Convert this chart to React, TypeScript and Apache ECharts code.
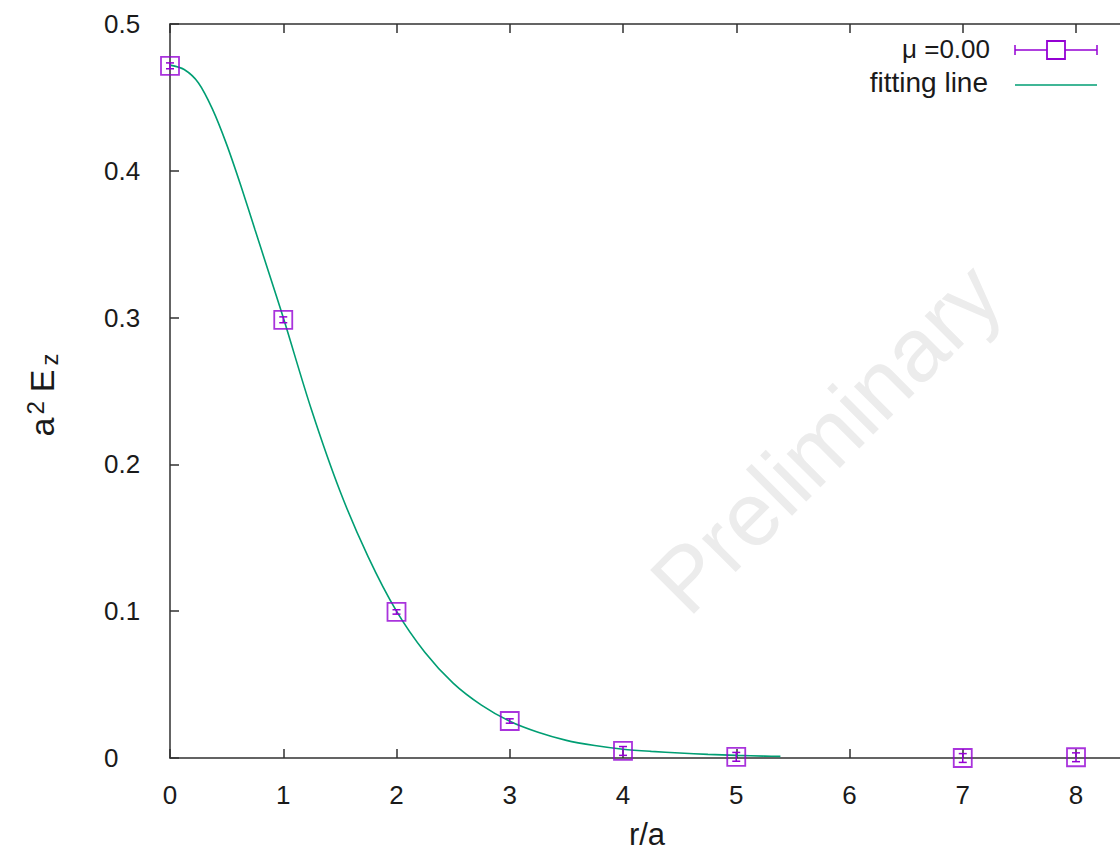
import React, { useEffect, useRef } from "react";
import * as echarts from "echarts";

// Measured data points (r/a, a^2 E_z, error)
const rValues = [0, 1, 2, 3, 4, 5, 7, 8];
const ezValues = [0.4715, 0.2985, 0.0995, 0.0252, 0.0048, 0.0008, 0.0, 0.0005];
const ezErrors = [0.002, 0.002, 0.0015, 0.0015, 0.003, 0.003, 0.003, 0.003];

// Fitting line
const fitR = [0, 0.125, 0.25, 0.375, 0.5, 0.625, 0.75, 0.875, 1.0, 1.25, 1.5, 1.75, 2.0, 2.25, 2.5, 2.75, 3.0, 3.25, 3.5, 3.75, 4.0, 4.25, 4.5, 4.75, 5.0, 5.25, 5.39];
const fitValues = [0.472, 0.469, 0.46, 0.442, 0.418, 0.39, 0.36, 0.33, 0.3, 0.237, 0.182, 0.137, 0.1, 0.072, 0.051, 0.036, 0.025, 0.0175, 0.012, 0.0085, 0.006, 0.0045, 0.0034, 0.0025, 0.0018, 0.0013, 0.0011];

const xTicks = { min: 0, max: 9, interval: 1, lastLabel: 8 };
const yTicks = { min: 0, max: 0.5, interval: 0.1 };

const legendLabels = ["\u03bc =0.00", "fitting line"];
const xAxisTitle = "r/a";

const VIOLET = "#9400d3";
const GREEN = "#009e73";
const TEXT = "#1a1a1a";
const AXIS = "#303030";
const FONT = "'Liberation Sans', Arial, sans-serif";

export default function App() {
  const ref = useRef<HTMLDivElement>(null);
  useEffect(() => {
    if (!ref.current) return;
    const chart = echarts.init(ref.current, undefined, { renderer: "svg" });
    const axisLineStyle = { color: AXIS, width: 1.5 };
    const option: any = {
      animation: false,
      backgroundColor: "#ffffff",
      textStyle: { fontFamily: FONT },
      grid: {
        left: 170,
        top: 24,
        right: 40.75,
        bottom: 96,
        containLabel: false,
        outerBoundsMode: "none",
      },
      xAxis: [
        {
          type: "value",
          min: xTicks.min,
          max: xTicks.max,
          interval: xTicks.interval,
          position: "bottom",
          axisLine: { show: true, onZero: false, lineStyle: axisLineStyle },
          axisTick: { show: true, inside: true, length: 9, lineStyle: axisLineStyle },
          axisLabel: {
            color: TEXT,
            fontSize: 26,
            margin: 24,
            fontFamily: FONT,
            formatter: (v: number) => (v > xTicks.lastLabel ? "" : String(v)),
          },
          splitLine: { show: false },
        },
        {
          type: "value",
          min: xTicks.min,
          max: xTicks.max,
          interval: xTicks.interval,
          position: "top",
          axisLine: { show: true, onZero: false, lineStyle: axisLineStyle },
          axisTick: { show: true, inside: true, length: 9, lineStyle: axisLineStyle },
          axisLabel: { show: false },
          splitLine: { show: false },
        },
      ],
      yAxis: [
        {
          type: "value",
          min: yTicks.min,
          max: yTicks.max,
          interval: yTicks.interval,
          position: "left",
          axisLine: { show: true, onZero: false, lineStyle: axisLineStyle },
          axisTick: { show: true, inside: true, length: 9, lineStyle: axisLineStyle },
          axisLabel: {
            color: TEXT,
            fontSize: 26,
            margin: 66,
            align: "left",
            fontFamily: FONT,
            formatter: (v: number) => (v === 0 ? "0" : v.toFixed(1)),
          },
          splitLine: { show: false },
        },
        {
          type: "value",
          min: yTicks.min,
          max: yTicks.max,
          interval: yTicks.interval,
          position: "right",
          axisLine: { show: true, onZero: false, lineStyle: axisLineStyle },
          axisTick: { show: true, inside: true, length: 9, lineStyle: axisLineStyle },
          axisLabel: { show: false },
          splitLine: { show: false },
        },
      ],
      series: [
        {
          type: "line",
          name: legendLabels[1],
          data: fitR.map((r, i) => [r, fitValues[i]]),
          showSymbol: false,
          symbol: "none",
          smooth: 0.3,
          lineStyle: { color: GREEN, width: 1.6 },
          z: 2,
        },
        {
          type: "custom",
          name: "errors",
          data: rValues.map((r, i) => [r, ezValues[i], ezErrors[i]]),
          renderItem: (params: any, api: any) => {
            const x = api.value(0);
            const y = api.value(1);
            const e = api.value(2);
            const lo = api.coord([x, y - e]);
            const hi = api.coord([x, y + e]);
            const cap = 4;
            const style = { stroke: VIOLET, lineWidth: 1.5 };
            return {
              type: "group",
              children: [
                { type: "line", shape: { x1: lo[0], y1: lo[1], x2: hi[0], y2: hi[1] }, style },
                { type: "line", shape: { x1: lo[0] - cap, y1: lo[1], x2: lo[0] + cap, y2: lo[1] }, style },
                { type: "line", shape: { x1: hi[0] - cap, y1: hi[1], x2: hi[0] + cap, y2: hi[1] }, style },
              ],
            };
          },
          clip: false,
          z: 3,
        },
        {
          type: "scatter",
          name: legendLabels[0],
          data: rValues.map((r, i) => [r, ezValues[i]]),
          symbol: "rect",
          symbolSize: 18,
          itemStyle: { color: "transparent", borderColor: VIOLET, borderWidth: 1.8 },
          clip: false,
          z: 4,
        },
      ],
      graphic: [
        {
          type: "text",
          x: 826,
          y: 438,
          rotation: Math.PI / 4,
          z: -10,
          style: {
            text: "Preliminary",
            fill: "#ececec",
            font: `90px ${FONT}`,
            align: "center",
            verticalAlign: "middle",
          },
        },
        {
          type: "text",
          x: 42,
          y: 396,
          rotation: Math.PI / 2,
          style: {
            text: "{n|a}{sup|2}{n|E}{sub|z}",
            align: "center",
            verticalAlign: "middle",
            fill: TEXT,
            rich: {
              n: { fontSize: 34, fontFamily: FONT, fill: TEXT, padding: [0, 2, 0, 2] },
              sup: { fontSize: 24, fontFamily: FONT, fill: TEXT, verticalAlign: "top", padding: [0, 7, 14, 1] },
              sub: { fontSize: 24, fontFamily: FONT, fill: TEXT, verticalAlign: "bottom", padding: [14, 0, 0, 2] },
            },
          },
        },
        {
          type: "text",
          x: 647,
          y: 834,
          style: {
            text: xAxisTitle,
            fill: TEXT,
            font: `31px ${FONT}`,
            align: "center",
            verticalAlign: "middle",
          },
        },
        // legend
        {
          type: "text",
          x: 990,
          y: 49,
          style: { text: legendLabels[0], fill: TEXT, font: `26px ${FONT}`, align: "right", verticalAlign: "middle" },
        },
        {
          type: "line",
          shape: { x1: 1015, y1: 50, x2: 1097, y2: 50 },
          style: { stroke: VIOLET, lineWidth: 1.5 },
        },
        {
          type: "line",
          shape: { x1: 1015, y1: 45, x2: 1015, y2: 55 },
          style: { stroke: VIOLET, lineWidth: 1.5 },
        },
        {
          type: "line",
          shape: { x1: 1097, y1: 45, x2: 1097, y2: 55 },
          style: { stroke: VIOLET, lineWidth: 1.5 },
        },
        {
          type: "rect",
          shape: { x: 1047, y: 41, width: 18, height: 18 },
          style: { fill: "#ffffff", stroke: VIOLET, lineWidth: 1.8 },
        },
        {
          type: "text",
          x: 988,
          y: 82,
          style: { text: legendLabels[1], fill: TEXT, font: `28px ${FONT}`, align: "right", verticalAlign: "middle" },
        },
        {
          type: "line",
          shape: { x1: 1015, y1: 85, x2: 1097, y2: 85 },
          style: { stroke: GREEN, lineWidth: 1.6 },
        },
      ],
    };
    chart.setOption(option);
    return () => chart.dispose();
  }, []);
  return (
    <div
      style={{
        position: "fixed",
        left: 0,
        top: 0,
        width: 1120,
        height: 854,
        overflow: "hidden",
        background: "#ffffff",
      }}
    >
      <div ref={ref} style={{ width: 1230, height: 854 }} />
    </div>
  );
}
